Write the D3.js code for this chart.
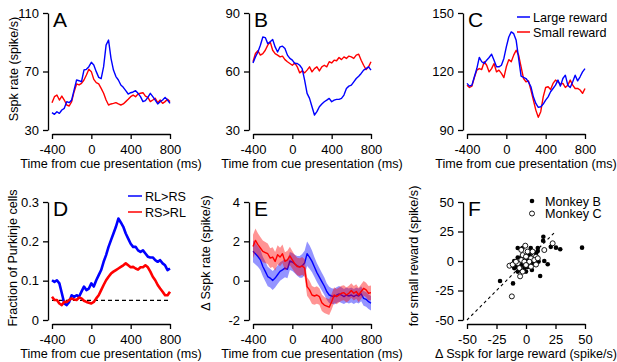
<!DOCTYPE html>
<html><head><meta charset="utf-8">
<script src="https://cdn.jsdelivr.net/npm/d3@7"></script>
<style>
body{margin:0;background:#fff;}
svg{display:block;}
text{font-family:"Liberation Sans",Arial,sans-serif;fill:#000;}
</style></head><body>
<svg id="c" width="617" height="362"></svg>
<script>
// ---------- data ----------
const times = d3.range(-400, 801, 25);
const timeTicks = [-400, 0, 400, 800];

const aTicks = [30, 70, 110];
const aLarge = [41.9,40.7,42.5,41.4,43.7,44.8,49.4,48.7,50.5,57.4,64.2,63.7,63,71,71.5,73.3,76.3,74.4,69.9,66,65.1,73.3,88,91.5,79,71,66.5,64.2,60.8,59.2,56.9,54.6,55.5,56,56.9,55.1,52.8,49.4,50.1,52.3,55.1,52.8,50.5,47.8,49.4,50.5,52.3,50.5,48.2];
const aSmall = [48.7,52.8,53.9,50.5,53.2,50.5,47.1,46.4,49.4,56.2,61.5,60.8,61.9,64.2,67.6,71.5,69.9,64.6,62.4,61.5,58.5,55.1,50.5,47.1,47.8,48.2,48.7,47.8,47.1,47.8,49.4,51,52.8,53.9,52.8,54.6,55.1,55.5,53.2,52.3,49.4,50.5,51.7,48.7,50.5,48.2,49.4,51,49.4];

const bTicks = [30, 60, 90];
const bLarge = [64.4,67.5,70,73.5,77.7,77.4,74.3,75.2,76.4,72.6,70,72.6,73,71.8,68.4,66.7,65.8,64.1,64.1,63.2,61.5,55.6,48.8,46.2,41.9,37.7,39.4,41.9,43.3,44.5,45.3,46.2,44.5,45.3,45.7,45.7,46.2,47.9,51.3,52.5,53,54.7,56.4,57.6,59,60.7,61.5,62.4,60.7];
const bSmall = [65,69.2,70.6,68.4,69.2,70.9,73.5,75.2,70.9,69.2,68.4,67.5,67.9,66.1,65,64.1,63.2,64.4,62.4,59.3,60.3,59.3,60.7,62.4,59.8,61.5,62.4,60.3,62.4,63.2,62.4,65,64.4,65.8,65.5,67.2,66.1,67.5,66.7,67.9,67.5,66.7,68.4,68.9,65.8,63.2,61,62.4,65];

const cTicks = [90, 120, 150];
const cLarge = [113.9,112.5,113,117.3,121.5,127.2,125,124.1,125.8,127.2,128.9,125.8,122.4,122.4,123.2,126.7,132.6,137.7,140.3,139.4,136,126.7,117.6,117,116.4,114.7,112.2,107,103.6,101.6,101.9,103.3,105.3,107,109.6,111.3,113,115.6,112.5,116.4,118.1,113,111.8,114.7,118.1,115.2,117.3,119.8,121.5];
const cSmall = [113,111.8,112.5,116.9,120.7,121.5,121,125,123.2,119.8,121.5,124.1,119.8,120.7,119,116.9,122.4,126.1,125,128.4,130.9,128.4,122.4,116.4,114.7,115.2,110.5,105.3,100.2,96.5,99.4,107,111.8,112.2,110.8,113.9,115.6,114.7,113.5,113.9,111.8,113,115.6,113,111.3,111.3,110.5,108.8,111.3];
const cLegend = ["Large reward", "Small reward"];

const dTicks = [0, 0.1, 0.2, 0.3];
const dChance = 0.05;
const dLargeGtSmall = [0.101,0.097,0.101,0.093,0.068,0.042,0.038,0.046,0.063,0.059,0.063,0.059,0.072,0.085,0.076,0.080,0.093,0.085,0.101,0.114,0.127,0.148,0.165,0.186,0.203,0.220,0.237,0.258,0.248,0.237,0.220,0.207,0.194,0.186,0.186,0.177,0.173,0.177,0.169,0.161,0.159,0.159,0.152,0.148,0.152,0.144,0.139,0.127,0.131];
const dSmallGtLarge = [0.059,0.051,0.051,0.042,0.038,0.046,0.046,0.051,0.055,0.052,0.051,0.057,0.055,0.049,0.046,0.044,0.042,0.046,0.055,0.063,0.076,0.089,0.101,0.110,0.118,0.123,0.127,0.131,0.135,0.139,0.144,0.139,0.134,0.135,0.131,0.128,0.134,0.134,0.139,0.134,0.123,0.110,0.101,0.089,0.080,0.072,0.063,0.063,0.072];
const dLegend = ["RL>RS", "RS>RL"];

const eTicks = [-2, 0, 2, 4];
const eLarge = [1.49,1.37,1.23,1.06,0.72,0.47,0.21,0.13,0.01,0.13,0.3,0.47,0.55,0.64,0.58,1.0,0.95,0.85,0.75,0.7,0.75,0.9,1.37,1.2,0.98,0.69,0.41,0.18,-0.05,-0.27,-0.55,-0.73,-0.78,-0.81,-0.73,-0.67,-0.73,-0.81,-0.73,-0.78,-0.73,-0.81,-0.73,-0.78,-0.67,-0.9,-0.95,-1.07,-1.15];
const eLargeSem = [0.55,0.55,0.52,0.52,0.5,0.5,0.5,0.48,0.48,0.48,0.47,0.47,0.46,0.46,0.46,0.46,0.46,0.47,0.5,0.55,0.6,0.62,0.62,0.6,0.55,0.5,0.48,0.46,0.45,0.44,0.42,0.42,0.4,0.4,0.4,0.4,0.4,0.38,0.38,0.38,0.38,0.38,0.38,0.38,0.38,0.38,0.38,0.37,0.37];
const eSmall = [1.74,2.05,1.83,1.66,1.49,1.43,1.37,1.15,1.2,0.98,1.32,1.2,1.37,0.98,1.06,1.26,1.06,0.86,0.72,0.69,0.75,0.64,-0.3,-0.47,-0.73,-0.78,-0.73,-0.81,-1.12,-1.24,-1.29,-1.35,-1.07,-0.73,-0.81,-0.73,-0.64,-0.61,-0.73,-0.64,-0.5,-0.64,-0.55,-0.73,-0.55,-0.39,-0.47,-0.64,-0.61];
const eSmallSem = [0.6,0.6,0.58,0.56,0.55,0.53,0.52,0.5,0.5,0.48,0.48,0.47,0.47,0.46,0.46,0.46,0.45,0.45,0.45,0.45,0.45,0.45,0.47,0.47,0.46,0.45,0.44,0.42,0.42,0.41,0.4,0.4,0.4,0.39,0.39,0.38,0.38,0.38,0.38,0.38,0.37,0.37,0.37,0.37,0.37,0.37,0.37,0.37,0.37];

const fTicks = [-50, -25, 0, 25, 50];
const fIdentity = [-50, 25];
const monkeyB = [[14.7,20.6],[14.5,17.2],[21,12],[25.4,11.3],[29,10],[47.5,11.3],[15.5,0],[18.4,-2.8],[12,-12.7],[-22,-17],[-11,-19],[-7,11],[-3,11],[4,11],[10,11],[10,8.5],[-10,0],[-7,3],[-4,3],[0,2],[3,5],[8.5,6.5],[-8.5,-5],[-4,-3.4],[-1.4,-6],[1.4,-5],[5.6,-2],[-10,-6],[-12.7,-3.4],[-7,-9],[0,-9],[10.7,-0.5],[5,-7.6]];
const monkeyC = [[-0.6,13],[-4,9.4],[1.4,8],[5.6,8],[8.5,3.7],[-2.8,5],[0,3.7],[4.2,2.3],[-4,0.8],[-1.4,-0.6],[2.8,-0.6],[7,0.8],[-14,-4],[-11.3,-3],[-7,-2],[-5.6,-6],[0,-3.4],[4.2,-4.8],[8.5,-3],[-5,-13],[-8.5,-0.6],[-2.8,-9],[10,2.3],[22.6,15],[15.5,9.3],[-12,-30]];
const fLegend = ["Monkey B", "Monkey C"];

const timeLabel = "Time from cue presentation (ms)";

// ---------- drawing ----------
const BLUE = "#0000ff", RED = "#ff0000";
const svg = d3.select("#c");

function panel(o) {
  const g = svg.append("g");
  const x = d3.scaleLinear().domain(o.xDomain).range([o.x0, o.x1]);
  const y = d3.scaleLinear().domain(o.yDomain).range([o.yBot, o.yTop]);
  const fmt = d => String(d);
  const xa = g.append("g").attr("transform", `translate(0,${o.yBot + 4})`)
    .call(d3.axisBottom(x).tickValues(o.xTicks).tickFormat(fmt).tickSize(5).tickSizeOuter(0).tickPadding(6));
  const ya = g.append("g").attr("transform", `translate(${o.x0 - 4},0)`)
    .call(d3.axisLeft(y).tickValues(o.yTicks).tickFormat(fmt).tickSize(5).tickSizeOuter(0).tickPadding(4));
  [xa, ya].forEach(a => {
    a.attr("font-size", 13).attr("font-family", '"Liberation Sans",Arial,sans-serif');
    a.selectAll("path,line").attr("stroke", "#000").attr("stroke-width", 1.3);
    a.selectAll("text").attr("fill", "#000");
  });
  g.append("text").attr("x", o.x0 + 1).attr("y", o.yTop + 14)
    .attr("font-size", 21).text(o.letter);
  g.append("text").attr("x", (o.x0 + o.x1) / 2).attr("y", o.yBot + 38)
    .attr("text-anchor", "middle").attr("font-size", 12.6).text(o.xLabel);
  g.append("text").attr("transform", `translate(${o.yLabelX},${o.yLabelY}) rotate(-90)`)
    .attr("text-anchor", "middle").attr("font-size", 12.6).text(o.yLabel);
  return {g, x, y};
}

function trace(p, vals, color, w) {
  const line = d3.line().x((d, i) => p.x(times[i])).y(d => p.y(d));
  p.g.append("path").datum(vals).attr("d", line).attr("fill", "none")
    .attr("stroke", color).attr("stroke-width", w || 1.4).attr("stroke-linejoin", "round");
}

const row1 = {yTop: 13, yBot: 130}, row2 = {yTop: 202, yBot: 320};
const col1 = {x0: 52, x1: 170}, col2 = {x0: 253, x1: 371}, col3 = {x0: 467, x1: 585};

// A
const pA = panel({...col1, ...row1, xDomain: [-400, 800], yDomain: [30, 110], xTicks: timeTicks, yTicks: aTicks,
  letter: "A", xLabel: timeLabel, yLabel: "Sspk rate (spike/s)", yLabelX: 18, yLabelY: 69});
trace(pA, aSmall, RED); trace(pA, aLarge, BLUE);

// B
const pB = panel({...col2, ...row1, xDomain: [-400, 800], yDomain: [30, 90], xTicks: timeTicks, yTicks: bTicks,
  letter: "B", xLabel: timeLabel, yLabel: "", yLabelX: 0, yLabelY: 0});
trace(pB, bSmall, RED); trace(pB, bLarge, BLUE);

// C
const pC = panel({...col3, ...row1, xDomain: [-400, 800], yDomain: [90, 150], xTicks: timeTicks, yTicks: cTicks,
  letter: "C", xLabel: timeLabel, yLabel: "", yLabelX: 0, yLabelY: 0});
trace(pC, cSmall, RED); trace(pC, cLarge, BLUE);
[BLUE, RED].forEach((c, i) => {
  const yy = 17 + i * 15;
  pC.g.append("line").attr("x1", 517).attr("x2", 530).attr("y1", yy).attr("y2", yy).attr("stroke", c).attr("stroke-width", 1.5);
  pC.g.append("text").attr("x", 533).attr("y", yy + 4.5).attr("font-size", 12.6).text(cLegend[i]);
});

// D
const pD = panel({...col1, ...row2, xDomain: [-400, 800], yDomain: [0, 0.3], xTicks: timeTicks, yTicks: dTicks,
  letter: "D", xLabel: timeLabel, yLabel: "Fraction of Purkinje cells", yLabelX: 17, yLabelY: 258});
pD.g.append("line").attr("x1", pD.x(-400)).attr("x2", pD.x(800)).attr("y1", pD.y(dChance)).attr("y2", pD.y(dChance))
  .attr("stroke", "#000").attr("stroke-width", 1.1).attr("stroke-dasharray", "4,3");
trace(pD, dLargeGtSmall, BLUE, 2.6); trace(pD, dSmallGtLarge, RED, 2.6);
[BLUE, RED].forEach((c, i) => {
  const yy = 196 + i * 16;
  pD.g.append("line").attr("x1", 128).attr("x2", 142).attr("y1", yy).attr("y2", yy).attr("stroke", c).attr("stroke-width", 1.5);
  pD.g.append("text").attr("x", 145).attr("y", yy + 4.5).attr("font-size", 12.6).text(dLegend[i]);
});

// E
const pE = panel({...col2, ...row2, xDomain: [-400, 800], yDomain: [-2, 4], xTicks: timeTicks, yTicks: eTicks,
  letter: "E", xLabel: timeLabel, yLabel: "Δ Sspk rate (spike/s)", yLabelX: 210, yLabelY: 253});
function band(p, m, s, color) {
  const area = d3.area().x((d, i) => p.x(times[i])).y0((d, i) => p.y(m[i] - s[i])).y1((d, i) => p.y(m[i] + s[i]));
  p.g.append("path").datum(m).attr("d", area).attr("fill", color).attr("fill-opacity", 0.42);
}
band(pE, eLarge, eLargeSem, BLUE);
trace(pE, eLarge, BLUE);
band(pE, eSmall, eSmallSem, RED);
trace(pE, eSmall, RED);

// F
const pF = panel({...col3, ...row2, xDomain: [-50, 50], yDomain: [-50, 50], xTicks: fTicks, yTicks: fTicks,
  letter: "F", xLabel: "Δ Sspk for large reward (spike/s)", yLabel: "for small reward (spike/s)", yLabelX: 418, yLabelY: 256});
pF.g.append("line").attr("x1", pF.x(fIdentity[0])).attr("y1", pF.y(fIdentity[0]))
  .attr("x2", pF.x(fIdentity[1])).attr("y2", pF.y(fIdentity[1]))
  .attr("stroke", "#000").attr("stroke-width", 1.1).attr("stroke-dasharray", "3,3");
pF.g.selectAll(".b").data(monkeyB).enter().append("circle")
  .attr("cx", d => pF.x(d[0])).attr("cy", d => pF.y(d[1])).attr("r", 2.3).attr("fill", "#000");
pF.g.selectAll(".c").data(monkeyC).enter().append("circle")
  .attr("cx", d => pF.x(d[0])).attr("cy", d => pF.y(d[1])).attr("r", 2.5)
  .attr("fill", "#fff").attr("stroke", "#000").attr("stroke-width", 0.9);
pF.g.append("circle").attr("cx", 532).attr("cy", 201).attr("r", 2.3).attr("fill", "#000");
pF.g.append("circle").attr("cx", 532).attr("cy", 213.5).attr("r", 2.5).attr("fill", "#fff").attr("stroke", "#000").attr("stroke-width", 0.9);
fLegend.forEach((t, i) => {
  pF.g.append("text").attr("x", 545).attr("y", 205.5 + i * 12.5).attr("font-size", 12.6).text(t);
});
</script>
</body></html>
